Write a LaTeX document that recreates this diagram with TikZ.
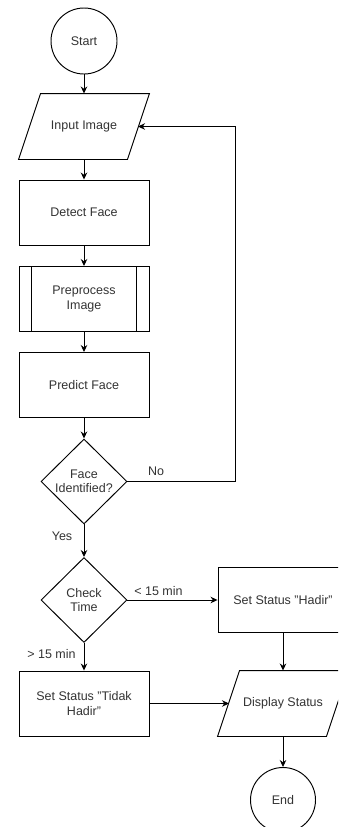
\documentclass[tikz,border=0pt]{standalone}
\usepackage{fontspec}
\setmainfont{Liberation Sans}
\newfontfamily\headfont{Liberation Serif}
\usetikzlibrary{shapes.geometric,arrows.meta}
\definecolor{txt}{HTML}{333333}
\begin{document}
\begin{tikzpicture}[x=1pt,y=-1pt,line width=0.95pt,
  every node/.style={font=\fontsize{12.5}{14.5}\selectfont,text=txt},
  box/.style={draw,rectangle,minimum width=130pt,minimum height=65pt,inner sep=0pt,align=center},
  iobox/.style={rectangle,minimum width=130pt,minimum height=65pt,inner sep=0pt,align=center},
  circ/.style={draw,circle,minimum size=66pt,inner sep=0pt},
  dia/.style={draw,diamond,minimum width=86pt,minimum height=85pt,inner sep=0pt,aspect=1},
  arr/.style={-{Stealth[length=7pt,width=6.5pt]}},
  lbl/.style={inner sep=0pt}]
\useasboundingbox (0,0) rectangle (338,827);
\clip (0,0) rectangle (338,827);
% cut-off heading
\node[anchor=base east,inner sep=0pt,text=black,font=\headfont\bfseries\fontsize{22}{24}\selectfont] (head) at (177,-2) {Sistem Backend};
% nodes
\node[circ] (start) at (84,41) {Start};
\node[iobox] (input) at (84,126.5) {Input Image};
\draw (input.south west) -- ([xshift=-22pt]input.south east) -- (input.north east) -- ([xshift=22pt]input.north west) -- cycle;
\coordinate (inR) at (138,126.5);
\node[box] (detect) at (84,212.5) {Detect Face};
\node[box] (prep) at (84,299) {Preprocess\\Image};
\draw ([xshift=13pt]prep.north west) -- ([xshift=13pt]prep.south west);
\draw ([xshift=-13pt]prep.north east) -- ([xshift=-13pt]prep.south east);
\node[box] (predict) at (84,385) {Predict Face};
\node[dia,label={[align=center,lbl]center:Face\\Identified?}] (ident) at (84,481.5) {};
\node[dia,label={[align=center,lbl]center:Check\\Time}] (check) at (84,600) {};
\node[box] (hadir) at (283,600) {Set Status "Hadir"};
\node[box] (tidak) at (84,703.5) {Set Status "Tidak\\Hadir"};
\node[iobox] (display) at (283,703.5) {Display Status};
\draw (display.south west) -- ([xshift=-22pt]display.south east) -- (display.north east) -- ([xshift=22pt]display.north west) -- cycle;
\coordinate (dispL) at (229,703.5);
\node[circ,minimum size=65pt] (end) at (283,800) {End};
\coordinate (loopc) at (235,126.5);
% connectors
\draw[arr] (start) -- (input);
\draw[arr] (input) -- (detect);
\draw[arr] (detect) -- (prep);
\draw[arr] (prep) -- (predict);
\draw[arr] (predict) -- (ident);
\draw[arr] (ident.east) -| (loopc) -- (inR);
\draw[arr] (ident) -- (check);
\draw[arr] (check.east) -- (hadir.west);
\draw[arr] (check) -- (tidak);
\draw[arr] (hadir) -- (display);
\draw[arr] (tidak.east) -- (dispL);
\draw[arr] (display) -- (end);
% labels
\node[lbl] (lno) at (156,471) {No};
\node[lbl] (lyes) at (62,536) {Yes};
\node[lbl] (llt) at (158.5,591) {< 15 min};
\node[lbl] (lgt) at (51.5,654) {> 15 min};
\end{tikzpicture}
\end{document}
